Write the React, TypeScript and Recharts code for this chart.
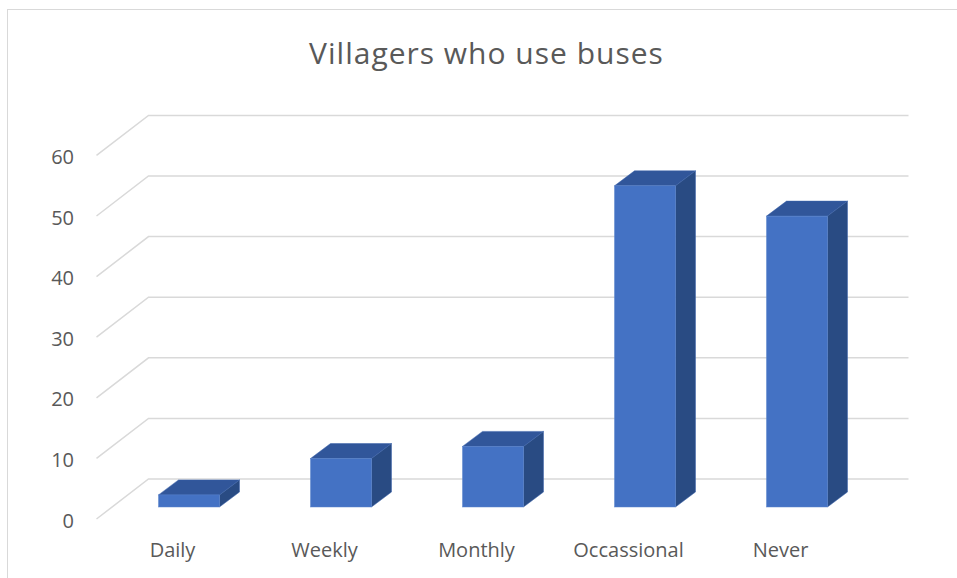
import { BarChart, Bar, XAxis, YAxis, CartesianGrid } from "recharts";

const categories = ["Daily", "Weekly", "Monthly", "Occassional", "Never"];
const villagers = [2, 8, 10, 53, 48];
const yTicks = [0, 10, 20, 30, 40, 50, 60];

const data = categories.map((name, i) => ({ name, value: villagers[i] }));

// fake 3D: offsets from the bar's front plane
const FRONT = { dx: -16, dy: 12 };
const BACK = { dx: 36, dy: -28 };
const DEPTH = { dx: 20, dy: -15 };

const TEXT = "#595959";
const GRID = "#D9D9D9";
const FONT = "'Open Sans', sans-serif";

function Bar3D(props: any) {
  const { x, y, width, height } = props;
  if (width == null || height == null) return null;
  const b = y + height;
  const r = x + width;
  const { dx, dy } = DEPTH;
  return (
    <g>
      <polygon points={`${x},${y} ${x + dx},${y + dy} ${r + dx},${y + dy} ${r},${y}`} fill="#31569A" stroke="#3A62AA" strokeWidth={0.5} />
      <polygon points={`${r},${y} ${r + dx},${y + dy} ${r + dx},${b + dy} ${r},${b}`} fill="#294B83" stroke="#3A62AA" strokeWidth={0.5} />
      <rect x={x} y={y} width={width} height={height} fill="#4472C4" stroke="#5B84CC" strokeWidth={0.5} />
    </g>
  );
}

function gridLine(props: any) {
  const { x1, y1, x2, key } = props;
  const pts = `${x1 + FRONT.dx},${y1 + FRONT.dy} ${x1 + BACK.dx},${y1 + BACK.dy} ${x2 + BACK.dx},${y1 + BACK.dy}`;
  return <polyline key={key} points={pts} fill="none" stroke={GRID} strokeWidth={1.5} />;
}

function YTick(props: any) {
  const { y, payload } = props;
  return (
    <text x={74} y={y + FRONT.dy + 1} textAnchor="end" dominantBaseline="central" fill={TEXT} fontSize={20} fontFamily={FONT}>
      {payload.value}
    </text>
  );
}

function XTick(props: any) {
  const { x, y, payload } = props;
  return (
    <text x={x + FRONT.dx} y={y + 34} textAnchor="middle" dominantBaseline="central" fill={TEXT} fontSize={20} fontFamily={FONT}>
      {payload.value}
    </text>
  );
}

export default function App() {
  return (
    <div style={{ position: "absolute", left: 0, top: 0, width: 957, height: 578, background: "#fff", overflow: "hidden" }}>
      <div style={{ position: "absolute", left: 7, top: 9, width: 980, height: 600, border: `1.5px solid ${GRID}` }} />
      <div style={{ position: "absolute", left: 0, width: 973, top: 31, textAlign: "center", fontFamily: FONT, fontSize: 30, letterSpacing: 1, color: TEXT, lineHeight: "44px" }}>
        Villagers who use buses
      </div>
      <div style={{ position: "absolute", left: 0, top: 0 }}>
        <BarChart width={957} height={578} data={data} margin={{ top: 143.4, right: 84.5, bottom: 41, left: 72.5 }} barSize={61}>
          <CartesianGrid vertical={false} horizontal={gridLine} />
          <XAxis dataKey="name" axisLine={false} tickLine={false} height={30} tick={<XTick />} interval={0} />
          <YAxis domain={[0, 60]} ticks={yTicks} axisLine={false} tickLine={false} width={40} tick={<YTick />} />
          <Bar dataKey="value" shape={<Bar3D />} isAnimationActive={false} />
        </BarChart>
      </div>
    </div>
  );
}
